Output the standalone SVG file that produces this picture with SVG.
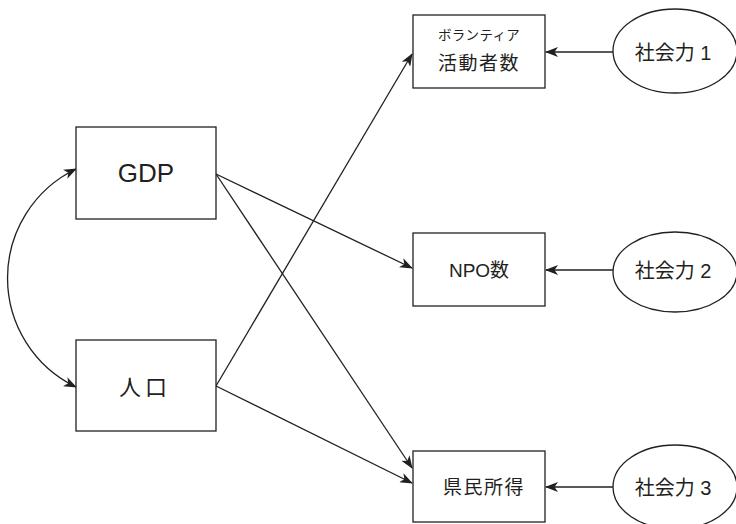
<svg xmlns="http://www.w3.org/2000/svg" width="736" height="524" viewBox="0 0 736 524">
  <defs>
    <marker id="ah" viewBox="0 0 13 10" refX="12" refY="5" markerWidth="13" markerHeight="10" markerUnits="userSpaceOnUse" orient="auto-start-reverse">
      <path d="M0,0 L13,5 L0,10 L3.5,5 Z" fill="#231f20"/>
    </marker>
  </defs>
  <style>
    .box { fill: #fff; stroke: #231f20; stroke-width: 1.3; }
    .ell { fill: #fff; stroke: #231f20; stroke-width: 1.3; }
    .edge { fill: none; stroke: #231f20; stroke-width: 1.3; }
    .t { font-family: "Liberation Sans", "Noto Sans CJK JP", sans-serif; fill: #231f20; text-anchor: middle; }
  </style>
  <rect width="736" height="524" fill="#fff"/>

  <g id="connectors">
    <path class="edge" d="M76,169 A121,121 0 0 0 76,387" marker-start="url(#ah)" marker-end="url(#ah)"/>
    <line class="edge" x1="216" y1="174" x2="412" y2="268" marker-end="url(#ah)"/>
    <line class="edge" x1="216" y1="174" x2="412" y2="468" marker-end="url(#ah)"/>
    <line class="edge" x1="216" y1="386" x2="412" y2="54" marker-end="url(#ah)"/>
    <line class="edge" x1="216" y1="386" x2="412" y2="483" marker-end="url(#ah)"/>
    <line class="edge" x1="613" y1="52" x2="546" y2="52" marker-end="url(#ah)"/>
    <line class="edge" x1="613" y1="270" x2="546" y2="270" marker-end="url(#ah)"/>
    <line class="edge" x1="613" y1="487" x2="546" y2="487" marker-end="url(#ah)"/>
  </g>

  <g id="gdp">
    <rect class="box" x="76" y="127" width="140" height="92"/>
    <text class="t" x="146" y="182" font-size="26">GDP</text>
  </g>
  <g id="jinko">
    <rect class="box" x="76" y="340" width="140" height="91"/>
    <text class="t" x="145" y="395" font-size="22" letter-spacing="4">人口</text>
  </g>
  <g id="volunteer">
    <rect class="box" x="413" y="15" width="132" height="73"/>
    <text class="t" x="479" y="40" font-size="13.5" letter-spacing="0.3">ボランティア</text>
    <text class="t" x="479" y="70" font-size="19" letter-spacing="1.5">活動者数</text>
  </g>
  <g id="npo">
    <rect class="box" x="413" y="233" width="132" height="73"/>
    <text class="t" x="479" y="277" font-size="19">NPO数</text>
  </g>
  <g id="kenmin">
    <rect class="box" x="413" y="451" width="132" height="71"/>
    <text class="t" x="484" y="494" font-size="19" letter-spacing="1.5">県民所得</text>
  </g>
  <g id="shakai1">
    <ellipse class="ell" cx="675" cy="51" rx="62" ry="42"/>
    <text class="t" x="673" y="60" font-size="20">社会力 1</text>
  </g>
  <g id="shakai2">
    <ellipse class="ell" cx="675" cy="272" rx="62" ry="40"/>
    <text class="t" x="673" y="278" font-size="20">社会力 2</text>
  </g>
  <g id="shakai3">
    <ellipse class="ell" cx="675" cy="487" rx="62" ry="42"/>
    <text class="t" x="673" y="495" font-size="20">社会力 3</text>
  </g>
</svg>
